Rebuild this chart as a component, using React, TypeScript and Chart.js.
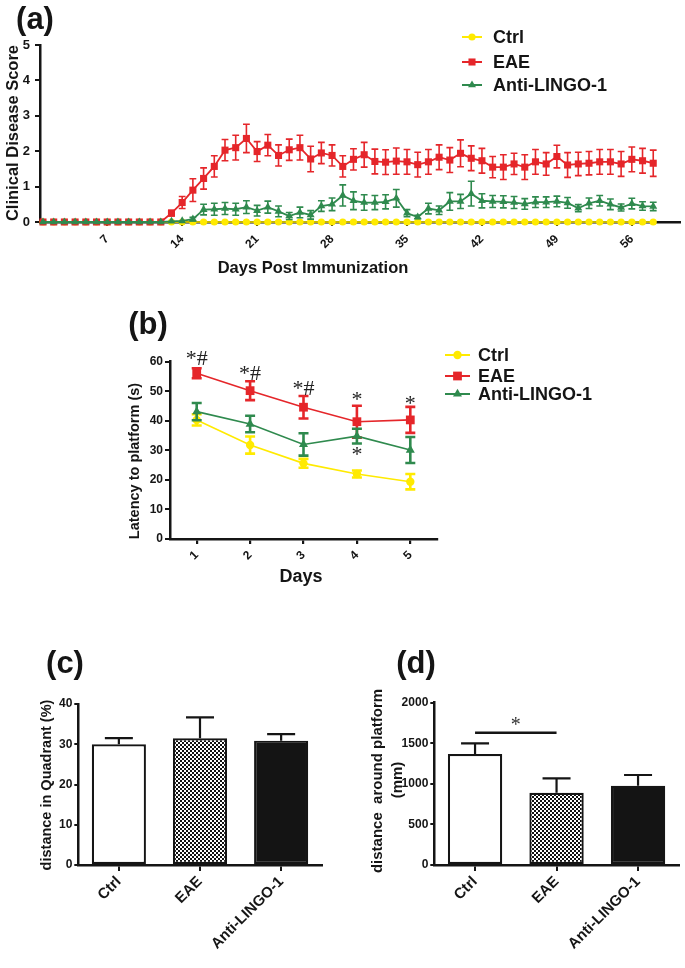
import React, { useEffect, useRef } from 'react';
import { Chart, registerables } from 'chart.js';

Chart.register(...registerables);

const SANS = "'Liberation Sans', Arial, Helvetica, sans-serif";
const SERIF = "'Liberation Serif', 'Times New Roman', Times, serif";
const INK = '#151515';
const RED = '#E5262A';
const GREEN = '#2F8A4E';
const YELLOW = '#FFEA00';

// ---------------- Panel (a): clinical score ----------------
const seriesNames = ['Ctrl', 'EAE', 'Anti-LINGO-1'];
const daysA = [
  1, 2, 3, 4, 5, 6, 7, 8, 9, 10, 11, 12, 13, 14, 15, 16, 17, 18, 19, 20,
  21, 22, 23, 24, 25, 26, 27, 28, 29, 30, 31, 32, 33, 34, 35, 36, 37, 38, 39, 40,
  41, 42, 43, 44, 45, 46, 47, 48, 49, 50, 51, 52, 53, 54, 55, 56, 57, 58,
];
const ctrlScoreA = [
  0, 0, 0, 0, 0, 0, 0, 0, 0, 0, 0, 0, 0, 0, 0, 0, 0, 0, 0, 0,
  0, 0, 0, 0, 0, 0, 0, 0, 0, 0, 0, 0, 0, 0, 0, 0, 0, 0, 0, 0,
  0, 0, 0, 0, 0, 0, 0, 0, 0, 0, 0, 0, 0, 0, 0, 0, 0, 0,
];
const eaeScoreA = [
  0, 0, 0, 0, 0, 0, 0, 0, 0, 0, 0, 0,
  0.25, 0.55, 0.9, 1.23, 1.57, 2.03, 2.1, 2.36,
  1.99, 2.17, 1.88, 2.04, 2.1, 1.78, 1.95, 1.88, 1.57, 1.77,
  1.9, 1.71, 1.69, 1.72, 1.7, 1.62, 1.7, 1.83, 1.75, 1.94,
  1.8, 1.73, 1.55, 1.55, 1.64, 1.55, 1.7, 1.64, 1.85, 1.61,
  1.64, 1.66, 1.7, 1.7, 1.64, 1.77, 1.73, 1.66,
];
const eaeSemA = [
  0, 0, 0, 0, 0, 0, 0, 0, 0, 0, 0, 0,
  0.08, 0.17, 0.32, 0.3, 0.3, 0.3, 0.35, 0.4,
  0.28, 0.3, 0.3, 0.3, 0.35, 0.36, 0.3, 0.3, 0.3, 0.3,
  0.35, 0.35, 0.35, 0.37, 0.35, 0.35, 0.35, 0.35, 0.35, 0.38,
  0.35, 0.35, 0.3, 0.35, 0.3, 0.35, 0.35, 0.32, 0.32, 0.35,
  0.33, 0.33, 0.35, 0.35, 0.35, 0.35, 0.35, 0.37,
];
const lingoScoreA = [
  0, 0, 0, 0, 0, 0, 0, 0, 0, 0, 0, 0,
  0.02, 0.03, 0.08, 0.35, 0.36, 0.38, 0.36, 0.42,
  0.32, 0.42, 0.3, 0.17, 0.27, 0.2, 0.45, 0.5, 0.75, 0.6,
  0.55, 0.55, 0.57, 0.67, 0.25, 0.14, 0.38, 0.33, 0.58, 0.58,
  0.8, 0.6, 0.58, 0.57, 0.55, 0.51, 0.56, 0.56, 0.58, 0.54,
  0.39, 0.53, 0.6, 0.5, 0.41, 0.52, 0.45, 0.44,
];
const lingoSemA = [
  0, 0, 0, 0, 0, 0, 0, 0, 0, 0, 0, 0,
  0, 0, 0.05, 0.15, 0.17, 0.17, 0.17, 0.18,
  0.15, 0.17, 0.15, 0.1, 0.15, 0.12, 0.15, 0.18, 0.3, 0.25,
  0.22, 0.2, 0.2, 0.25, 0.1, 0.05, 0.15, 0.12, 0.25, 0.2,
  0.35, 0.2, 0.17, 0.17, 0.17, 0.15, 0.15, 0.15, 0.15, 0.15,
  0.1, 0.15, 0.15, 0.15, 0.1, 0.15, 0.12, 0.12,
];
const dayTicksA = [7, 14, 21, 28, 35, 42, 49, 56];
const scoreTicksA = [0, 1, 2, 3, 4, 5];

// ---------------- Panel (b): latency ----------------
const daysB = [1, 2, 3, 4, 5];
const ctrlLatencyB = [40.3, 31.8, 25.6, 22.0, 19.4];
const ctrlSemB = [1.9, 2.9, 1.5, 1.2, 2.6];
const eaeLatencyB = [56.1, 50.2, 44.6, 39.7, 40.3];
const eaeSemB = [1.7, 3.2, 3.8, 5.4, 4.4];
const lingoLatencyB = [43.1, 38.9, 32.0, 34.8, 30.1];
const lingoSemB = [2.9, 2.8, 3.8, 2.5, 4.4];
const latencyTicksB = [0, 10, 20, 30, 40, 50, 60];
// significance marks: text, day, baseline (data units)
const sigTextB = ['*#', '*#', '*#', '*', '*', '*'];
const sigDayB = [1, 2, 3, 4, 5, 4];
const sigLevelB = [58.9, 53.8, 48.7, 45.0, 43.7, 26.4];

// ---------------- Panel (c) & (d): probe trial ----------------
const groups = ['Ctrl', 'EAE', 'Anti-LINGO-1'];
const quadrantPctC = [30.0, 31.5, 30.9];
const quadrantSemC = [1.5, 5.2, 1.6];
const quadrantTicksC = [0, 10, 20, 30, 40];
const aroundPlatformD = [1368, 891, 977];
const aroundSemD = [132, 177, 132];
const aroundTicksD = [0, 500, 1000, 1500, 2000];
const sigPairD = [0, 1];
const sigLineLevelD = 1630;
const sigStarLevelD = 1657;

// ---------------- helpers ----------------
type Txt = {
  text: string; x: number; y: number; size: number; rot?: number;
  align?: CanvasTextAlign; baseline?: CanvasTextBaseline; family?: string; weight?: string;
};

function textsPlugin(items: Txt[]) {
  return {
    id: 'panelTexts',
    afterDraw(chart: any) {
      const ctx = chart.ctx as CanvasRenderingContext2D;
      for (const t of items) {
        ctx.save();
        ctx.fillStyle = INK;
        ctx.font = `${t.weight ?? 'bold'} ${t.size}px ${t.family ?? SANS}`;
        ctx.textAlign = t.align ?? 'center';
        ctx.textBaseline = t.baseline ?? 'middle';
        ctx.translate(t.x, t.y);
        if (t.rot) ctx.rotate(t.rot);
        ctx.fillText(t.text, 0, 0);
        ctx.restore();
      }
    },
  };
}

function errorBarsPlugin(lineWidth: number, cap: number, upOnly: boolean) {
  return {
    id: 'errorBars',
    afterDatasetDraw(chart: any, args: any) {
      const ds: any = chart.data.datasets[args.index];
      const errs: number[] | undefined = ds.errors;
      if (!errs) return;
      const meta = args.meta;
      const ys = chart.scales[meta.yAxisID];
      const ctx = chart.ctx as CanvasRenderingContext2D;
      ctx.save();
      ctx.strokeStyle = ds.errorColor ?? ds.borderColor;
      ctx.lineWidth = lineWidth;
      meta.data.forEach((el: any, i: number) => {
        const e = errs[i];
        if (!e) return;
        const raw = ds.data[i];
        const v = typeof raw === 'number' ? raw : raw.y;
        const top = ys.getPixelForValue(v + e);
        const bottom = upOnly ? ys.getPixelForValue(v) : ys.getPixelForValue(v - e);
        ctx.beginPath();
        ctx.moveTo(el.x, top);
        ctx.lineTo(el.x, bottom);
        ctx.moveTo(el.x - cap, top);
        ctx.lineTo(el.x + cap, top);
        if (!upOnly) {
          ctx.moveTo(el.x - cap, bottom);
          ctx.lineTo(el.x + cap, bottom);
        }
        ctx.stroke();
      });
      ctx.restore();
    },
  };
}

function drawMarker(ctx: CanvasRenderingContext2D, style: string, x: number, y: number, r: number, color: string) {
  ctx.save();
  ctx.fillStyle = color;
  ctx.beginPath();
  if (style === 'rect') {
    const s = r * Math.SQRT2;
    ctx.rect(x - s / 2, y - s / 2, s, s);
  } else if (style === 'triangle') {
    let a = 0;
    ctx.moveTo(x + Math.sin(a) * r, y - Math.cos(a) * r);
    a += (2 * Math.PI) / 3;
    ctx.lineTo(x + Math.sin(a) * r, y - Math.cos(a) * r);
    a += (2 * Math.PI) / 3;
    ctx.lineTo(x + Math.sin(a) * r, y - Math.cos(a) * r);
    ctx.closePath();
  } else {
    ctx.arc(x, y, r, 0, Math.PI * 2);
  }
  ctx.fill();
  ctx.restore();
}

function seriesLegendPlugin(x: number, ys: number[], lineLen: number, gap: number, size: number) {
  return {
    id: 'seriesLegend',
    afterDraw(chart: any) {
      const ctx = chart.ctx as CanvasRenderingContext2D;
      chart.data.datasets.forEach((ds: any, i: number) => {
        const y = ys[i];
        ctx.save();
        ctx.strokeStyle = ds.borderColor;
        ctx.lineWidth = 2;
        ctx.beginPath();
        ctx.moveTo(x, y);
        ctx.lineTo(x + lineLen, y);
        ctx.stroke();
        ctx.restore();
        drawMarker(ctx, ds.pointStyle, x + lineLen / 2, y, ds.pointRadius, ds.pointBackgroundColor);
        ctx.save();
        ctx.fillStyle = INK;
        ctx.font = `bold ${size}px ${SANS}`;
        ctx.textAlign = 'left';
        ctx.textBaseline = 'middle';
        ctx.fillText(ds.label, x + lineLen + gap, y + 1);
        ctx.restore();
      });
    },
  };
}

function sigMarksPlugin(texts: string[], xs: number[], ys: number[], size: number) {
  return {
    id: 'sigMarks',
    afterDraw(chart: any) {
      const ctx = chart.ctx as CanvasRenderingContext2D;
      const sx = chart.scales.x;
      const sy = chart.scales.y;
      ctx.save();
      ctx.fillStyle = '#222';
      ctx.font = `${size}px ${SERIF}`;
      ctx.textAlign = 'center';
      ctx.textBaseline = 'alphabetic';
      texts.forEach((t, i) => {
        ctx.fillText(t, sx.getPixelForValue(xs[i]), sy.getPixelForValue(ys[i]));
      });
      ctx.restore();
    },
  };
}

function sigLinePlugin(pair: number[], lineLevel: number, starLevel: number) {
  return {
    id: 'sigLine',
    afterDraw(chart: any) {
      const ctx = chart.ctx as CanvasRenderingContext2D;
      const sx = chart.scales.x;
      const sy = chart.scales.y;
      const x1 = sx.getPixelForValue(pair[0]);
      const x2 = sx.getPixelForValue(pair[1]);
      const y = sy.getPixelForValue(lineLevel);
      ctx.save();
      ctx.strokeStyle = INK;
      ctx.lineWidth = 2.5;
      ctx.beginPath();
      ctx.moveTo(x1, y);
      ctx.lineTo(x2, y);
      ctx.stroke();
      ctx.fillStyle = '#333';
      ctx.font = `20px ${SERIF}`;
      ctx.textAlign = 'center';
      ctx.textBaseline = 'alphabetic';
      ctx.fillText('*', (x1 + x2) / 2, sy.getPixelForValue(starLevel));
      ctx.restore();
    },
  };
}

function fixedAxis(size: number, horizontal: boolean) {
  return (s: any) => {
    if (horizontal) s.height = size; else s.width = size;
    s.paddingLeft = 0; s.paddingRight = 0; s.paddingTop = 0; s.paddingBottom = 0;
  };
}

function setTicks(values: number[]) {
  return (s: any) => { s.ticks = values.map((v) => ({ value: v })); };
}

const gridTicks = (len: number, w: number) => ({
  display: true, drawOnChartArea: false, drawTicks: true, tickLength: len, color: INK, lineWidth: w,
});
const border = (w: number) => ({ display: true, color: INK, width: w });
const tickFont = (size: number) => ({ family: SANS, size, weight: 'bold' as const });

function lineSet(label: string, xs: number[], ys: number[], errs: number[], color: string,
  style: string, r: number, bw: number, order: number) {
  return {
    label,
    data: xs.map((x, i) => ({ x, y: ys[i] })),
    errors: errs,
    borderColor: color,
    backgroundColor: color,
    pointBackgroundColor: color,
    pointBorderColor: color,
    pointBorderWidth: 0,
    pointStyle: style,
    pointRadius: r,
    borderWidth: bw,
    order,
    clip: false,
    tension: 0,
  };
}

// ---------------- builders ----------------
function buildA() {
  return {
    type: 'line',
    data: {
      datasets: [
        lineSet(seriesNames[0], daysA, ctrlScoreA, ctrlScoreA, YELLOW, 'circle', 3.6, 1.5, 2),
        lineSet(seriesNames[1], daysA, eaeScoreA, eaeSemA, RED, 'rect', 5, 1.8, 1),
        lineSet(seriesNames[2], daysA, lingoScoreA, lingoSemA, GREEN, 'triangle', 4.6, 1.8, 0),
      ],
    },
    options: {
      responsive: false,
      animation: false,
      events: [],
      layout: { padding: { left: 0, top: 45, right: 3, bottom: 0 } },
      plugins: { legend: { display: false }, tooltip: { enabled: false } },
      scales: {
        x: {
          type: 'linear', min: 0.72, max: 60.5,
          afterBuildTicks: setTicks(dayTicksA),
          afterFit: fixedAxis(68, true),
          grid: gridTicks(4, 2),
          border: border(2.5),
          ticks: { color: INK, font: tickFont(12), minRotation: 45, maxRotation: 45, padding: 6, callback: (v: any) => String(v) },
        },
        y: {
          type: 'linear', min: 0, max: 5,
          afterBuildTicks: setTicks(scoreTicksA),
          afterFit: fixedAxis(40, false),
          grid: gridTicks(5, 2),
          border: border(2.5),
          ticks: { color: INK, font: tickFont(13), padding: 5, callback: (v: any) => String(v) },
        },
      },
    },
    plugins: [
      errorBarsPlugin(1.6, 3.4, false),
      seriesLegendPlugin(462, [37, 62, 85], 20, 11, 18),
      textsPlugin([
        { text: '(a)', x: 35, y: 20, size: 31 },
        { text: 'Clinical Disease Score', x: 13, y: 133, size: 16.5, rot: -Math.PI / 2 },
        { text: 'Days Post Immunization', x: 313, y: 268, size: 16.5 },
      ]),
    ],
  };
}

function buildB() {
  return {
    type: 'line',
    data: {
      datasets: [
        lineSet(seriesNames[0], daysB, ctrlLatencyB, ctrlSemB, YELLOW, 'circle', 4.2, 1.6, 2),
        lineSet(seriesNames[1], daysB, eaeLatencyB, eaeSemB, RED, 'rect', 6.2, 1.6, 1),
        lineSet(seriesNames[2], daysB, lingoLatencyB, lingoSemB, GREEN, 'triangle', 5.2, 1.6, 0),
      ],
    },
    options: {
      responsive: false,
      animation: false,
      events: [],
      layout: { padding: { left: 0, top: 66.7, right: 248, bottom: 0 } },
      plugins: { legend: { display: false }, tooltip: { enabled: false } },
      scales: {
        x: {
          type: 'linear', min: 0.5, max: 5.5,
          afterBuildTicks: setTicks(daysB),
          afterFit: fixedAxis(56, true),
          grid: gridTicks(5, 2.2),
          border: border(2.5),
          ticks: { color: INK, font: tickFont(12), minRotation: 45, maxRotation: 45, padding: 4, callback: (v: any) => String(v) },
        },
        y: {
          type: 'linear', min: 0, max: 60,
          afterBuildTicks: setTicks(latencyTicksB),
          afterFit: fixedAxis(70, false),
          grid: gridTicks(5, 2),
          border: border(2.5),
          ticks: { color: INK, font: tickFont(12), padding: 2, callback: (v: any) => String(v) },
        },
      },
    },
    plugins: [
      errorBarsPlugin(2.6, 5, false),
      seriesLegendPlugin(345, [60, 81, 99], 25, 8, 18),
      sigMarksPlugin(sigTextB, sigDayB, sigLevelB, 22),
      textsPlugin([
        { text: '(b)', x: 48, y: 30, size: 31 },
        { text: 'Latency to platform (s)', x: 35, y: 166, size: 14.5, rot: -Math.PI / 2 },
        { text: 'Days', x: 201, y: 282, size: 18 },
      ]),
    ],
  };
}

let checkerCanvas: HTMLCanvasElement | null = null;
function checker(ctx: CanvasRenderingContext2D) {
  if (!checkerCanvas) {
    checkerCanvas = document.createElement('canvas');
    checkerCanvas.width = 4;
    checkerCanvas.height = 4;
    const c = checkerCanvas.getContext('2d')!;
    c.fillStyle = '#ffffff';
    c.fillRect(0, 0, 4, 4);
    c.fillStyle = '#111111';
    c.fillRect(0, 0, 2, 2);
    c.fillRect(2, 2, 2, 2);
  }
  return ctx.createPattern(checkerCanvas, 'repeat');
}

function barFill(c: any) {
  if (c.dataIndex === 1) return checker(c.chart.ctx);
  return c.dataIndex === 0 ? '#ffffff' : '#141414';
}

function buildBar(values: number[], sems: number[], ticks: number[], max: number,
  padTop: number, padRight: number, yWidth: number, extra: any[]) {
  return {
    type: 'bar',
    data: {
      labels: groups,
      datasets: [{
        label: 'value',
        data: values,
        errors: sems,
        backgroundColor: barFill,
        borderColor: INK,
        borderWidth: 2.2,
        borderSkipped: false,
        barPercentage: 0.667,
        categoryPercentage: 1,
      }],
    },
    options: {
      responsive: false,
      animation: false,
      events: [],
      layout: { padding: { left: 0, top: padTop, right: padRight, bottom: 0 } },
      plugins: { legend: { display: false }, tooltip: { enabled: false } },
      scales: {
        x: {
          type: 'category',
          offset: true,
          afterFit: fixedAxis(103, true),
          grid: { ...gridTicks(6, 2), offset: false },
          border: border(2.5),
          ticks: { color: INK, font: tickFont(15), minRotation: 45, maxRotation: 45, padding: 2 },
        },
        y: {
          type: 'linear', min: 0, max,
          afterBuildTicks: setTicks(ticks),
          afterFit: fixedAxis(yWidth, false),
          grid: gridTicks(4, 2),
          border: border(2.5),
          ticks: { color: INK, font: tickFont(12), padding: 2, callback: (v: any) => String(v) },
        },
      },
    },
    plugins: [errorBarsPlugin(2.2, 14, true), ...extra],
  };
}

function buildC() {
  return buildBar(quadrantPctC, quadrantSemC, quadrantTicksC, 40, 64, 18.3, 78.3, [
    textsPlugin([
      { text: '(c)', x: 65, y: 24, size: 31 },
      { text: 'distance in Quadrant (%)', x: 47, y: 145, size: 14.5, rot: -Math.PI / 2 },
    ]),
  ]);
}

function buildD() {
  return buildBar(aroundPlatformD, aroundSemD, aroundTicksD, 2000, 62.7, 6.2, 94.3, [
    sigLinePlugin(sigPairD, sigLineLevelD, sigStarLevelD),
    textsPlugin([
      { text: '(d)', x: 76, y: 24, size: 31 },
      { text: 'distance  around platform', x: 38, y: 141, size: 15, rot: -Math.PI / 2 },
      { text: '(mm)', x: 58, y: 140, size: 15, rot: -Math.PI / 2 },
    ]),
  ]);
}

type PanelProps = { left: number; top: number; width: number; height: number; build: () => any };

function Panel({ left, top, width, height, build }: PanelProps) {
  const ref = useRef<HTMLCanvasElement | null>(null);
  useEffect(() => {
    if (!ref.current) return;
    const chart = new Chart(ref.current, build());
    return () => chart.destroy();
  }, [build]);
  return (
    <canvas
      ref={ref}
      width={width}
      height={height}
      style={{ position: 'absolute', left, top, width, height, display: 'block' }}
    />
  );
}

export default function App() {
  return (
    <div style={{ position: 'absolute', left: 0, top: 0, width: 685, height: 968, background: '#ffffff', overflow: 'hidden' }}>
      <Panel left={0} top={0} width={685} height={290} build={buildA} />
      <Panel left={100} top={295} width={585} height={300} build={buildB} />
      <Panel left={0} top={640} width={340} height={328} build={buildC} />
      <Panel left={340} top={640} width={345} height={328} build={buildD} />
    </div>
  );
}
